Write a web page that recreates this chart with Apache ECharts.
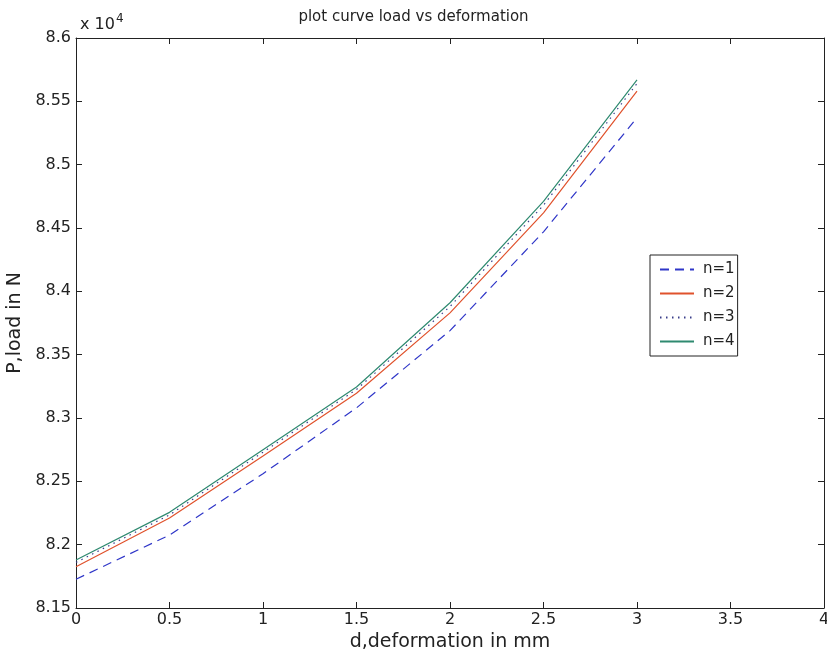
<!DOCTYPE html>
<html>
<head>
<meta charset="utf-8">
<script src="https://cdn.jsdelivr.net/npm/echarts@6/dist/echarts.min.js"></script>
<style>
  html, body { margin: 0; padding: 0; background: #fff; }
  #chart { width: 827px; height: 656px; }
</style>
</head>
<body>
<div id="chart"></div>
<script>
// deformation in mm
const deformation = [0, 0.5, 1, 1.5, 2, 2.5, 3]
// load in N, x 10^4
const loadN1 = [8.1727, 8.2076, 8.2560, 8.3080, 8.3690, 8.4470, 8.5370]
const loadN2 = [8.1826, 8.2210, 8.2700, 8.3195, 8.3830, 8.4620, 8.5580]
const loadN3 = [8.1860, 8.2235, 8.2730, 8.3225, 8.3880, 8.4680, 8.5640]
const loadN4 = [8.1879, 8.2255, 8.2750, 8.3245, 8.3910, 8.4710, 8.5670]
const seriesNames = ['n=1', 'n=2', 'n=3', 'n=4']

function pairs(ys) {
  return deformation.map((x, i) => [x, ys[i]])
}

const font = 'DejaVu Sans, sans-serif'
const axisLine = { show: true, onZero: false, lineStyle: { color: '#222', width: 1 } }
const tickIn = { show: true, inside: true, length: 6, lineStyle: { color: '#222' } }

const option = {
  animation: false,
  backgroundColor: '#fff',
  textStyle: { fontFamily: font },
  title: [
    {
      text: 'plot curve load vs deformation',
      left: 'center',
      top: 5,
      textStyle: { fontSize: 15, fontWeight: 'normal', color: '#222', fontFamily: font }
    },
    {
      text: 'x 10{sup|4}',
      left: 75,
      top: 8,
      textStyle: {
        fontSize: 16, fontWeight: 'normal', color: '#222', fontFamily: font,
        rich: { sup: { fontSize: 12, verticalAlign: 'top', padding: [0, 0, 12, 1], color: '#222', fontFamily: font } }
      }
    }
  ],
  grid: { left: 76, right: 3, top: 38, bottom: 48, outerBoundsMode: 'none', containLabel: false },
  legend: {
    orient: 'vertical',
    left: 650,
    top: 255,
    itemWidth: 34,
    itemHeight: 10,
    itemGap: 9,
    padding: [7, 3, 7, 9],
    borderColor: '#222',
    borderWidth: 1,
    backgroundColor: '#fff',
    borderRadius: 0,
    itemStyle: { opacity: 0 },
    textStyle: { fontSize: 15, color: '#222', fontFamily: font, padding: [0, 0, 0, 4] },
    data: seriesNames
  },
  xAxis: [
    {
      type: 'value', min: 0, max: 4, interval: 0.5,
      name: 'd,deformation in mm', nameLocation: 'middle', nameGap: 25,
      nameTextStyle: { fontSize: 19, color: '#222' },
      axisLine: axisLine, axisTick: tickIn,
      axisLabel: { fontSize: 16, color: '#222', margin: 4 },
      splitLine: { show: false }
    },
    {
      type: 'value', min: 0, max: 4, interval: 0.5, position: 'top',
      axisLine: axisLine, axisTick: tickIn,
      axisLabel: { show: false }, splitLine: { show: false }
    }
  ],
  yAxis: [
    {
      type: 'value', min: 8.15, max: 8.6, interval: 0.05,
      name: 'P,load in N', nameLocation: 'middle', nameGap: 48,
      nameTextStyle: { fontSize: 19, color: '#222' },
      axisLine: axisLine, axisTick: tickIn,
      axisLabel: { fontSize: 16, color: '#222', margin: 5 },
      splitLine: { show: false }
    },
    {
      type: 'value', min: 8.15, max: 8.6, interval: 0.05, position: 'right',
      axisLine: axisLine, axisTick: tickIn,
      axisLabel: { show: false }, splitLine: { show: false }
    }
  ],
  series: [
    {
      name: 'n=1', type: 'line', data: pairs(loadN1), symbol: 'none',
      lineStyle: { color: '#2f36c8', width: 1.2, type: [9, 6] },
      itemStyle: { color: '#2f36c8' }
    },
    {
      name: 'n=2', type: 'line', data: pairs(loadN2), symbol: 'none',
      lineStyle: { color: '#e0522c', width: 1.2 },
      itemStyle: { color: '#e0522c' }
    },
    {
      name: 'n=3', type: 'line', data: pairs(loadN3), symbol: 'none',
      lineStyle: { color: '#3a3f8a', width: 1.2, type: [1.5, 4.5] },
      itemStyle: { color: '#3a3f8a' }
    },
    {
      name: 'n=4', type: 'line', data: pairs(loadN4), symbol: 'none',
      lineStyle: { color: '#2f8a70', width: 1.2 },
      itemStyle: { color: '#2f8a70' }
    }
  ]
}

const chart = echarts.init(document.getElementById('chart'))
chart.setOption(option)
</script>
</body>
</html>
